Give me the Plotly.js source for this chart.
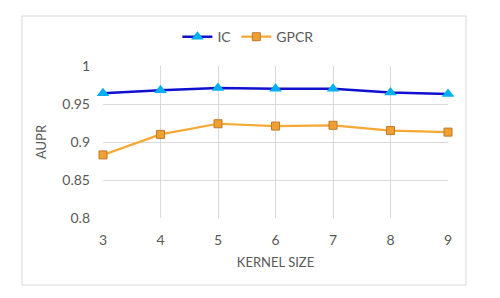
<!DOCTYPE html>
<html><head><meta charset="utf-8">
<script src="https://cdn.plot.ly/plotly-3.0.1.min.js"></script>
<style>html,body{margin:0;padding:0;background:#fff}#c{width:500px;height:298px}</style>
</head><body><div id="c"></div>
<script>
const kernelSizes = [3, 4, 5, 6, 7, 8, 9];
const icValues = [0.964, 0.968, 0.971, 0.970, 0.970, 0.965, 0.963];
const gpcrValues = [0.883, 0.910, 0.924, 0.921, 0.922, 0.915, 0.913];
const yTicks = [0.8, 0.85, 0.9, 0.95, 1];
const yTickLabels = ['0.8', '0.85', '0.9', '0.95', '1'];

const font = {family: 'Lato, "Open Sans", sans-serif', size: 14, color: '#595959'};
const traces = [
  {x: kernelSizes, y: icValues, name: 'IC', type: 'scatter', mode: 'lines+markers', cliponaxis: false,
   line: {color: '#1010D0', width: 2.5},
   marker: {symbol: 'triangle-up', size: 11, color: '#00B0F0', line: {width: 0}}},
  {x: kernelSizes, y: gpcrValues, name: 'GPCR', type: 'scatter', mode: 'lines+markers', cliponaxis: false,
   line: {color: '#F5A833', width: 2.2},
   marker: {symbol: 'square', size: 8, color: '#F0A030', line: {color: '#C0782A', width: 1}}}
];
const layout = {
  width: 500, height: 298,
  margin: {l: 103, r: 52, t: 66, b: 80},
  paper_bgcolor: '#fff', plot_bgcolor: '#fff',
  font: font,
  showlegend: true,
  legend: {orientation: 'h', x: 0.42, xanchor: 'center', y: 1.19, yanchor: 'middle',
           font: {family: font.family, size: 14, color: '#595959'}, itemwidth: 30, traceorder: 'normal'},
  xaxis: {range: [3, 9], tickvals: kernelSizes, ticktext: kernelSizes.map(String),
          showgrid: true, gridcolor: '#D9D9D9', zeroline: false, showline: false, ticks: '',
          ticklabelstandoff: 12,
          title: {text: 'KERNEL SIZE', font: {family: font.family, size: 13, color: '#595959'}, standoff: 10}},
  yaxis: {range: [0.8, 1], tickvals: yTicks, ticktext: yTickLabels,
          showgrid: true, gridcolor: '#D9D9D9', zeroline: false, showline: false, ticks: '',
          ticklabelstandoff: 12,
          title: {text: 'AUPR', font: {family: font.family, size: 13, color: '#595959'}, standoff: 12}},
  shapes: [{type: 'rect', xref: 'paper', yref: 'paper', x0: -0.2348, x1: 1.0522, y0: -0.4408, y1: 1.329,
            line: {color: '#D9D9D9', width: 1}, fillcolor: 'rgba(0,0,0,0)', layer: 'below'}]
};
Plotly.newPlot('c', traces, layout, {displayModeBar: false, staticPlot: true});
</script></body></html>
